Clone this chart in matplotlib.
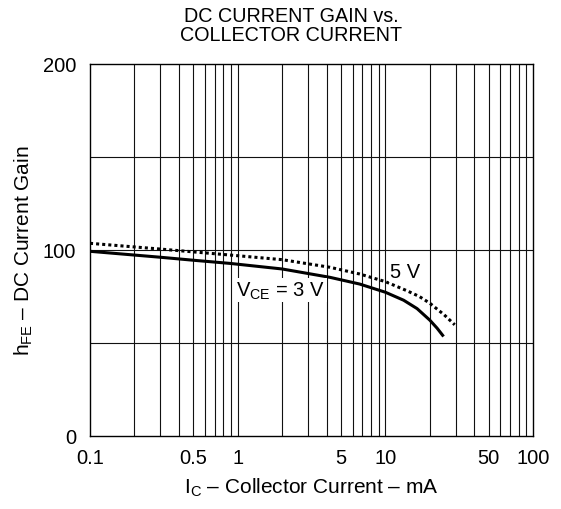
import matplotlib
matplotlib.use("Agg")
import matplotlib.pyplot as plt

plt.rcParams.update({
    "font.family": "Liberation Sans",
    "font.size": 14.5,
    "mathtext.fontset": "custom",
    "mathtext.rm": "Liberation Sans",
})

# (collector current in mA, DC current gain)
ic_3v = [0.1, 0.3, 0.5, 0.886, 2, 4.22, 6.7, 10, 13.3, 16.4, 20, 22.4, 24.8]
hfe_3v = [99.3, 96.1, 94.5, 92.8, 89.8, 85.3, 81.7, 77.3, 73.0, 68.5, 62.3, 58.0, 53.5]
ic_5v = [0.1, 0.3, 0.886, 2, 4.22, 6.7, 10, 14, 17, 20, 25, 29.5]
hfe_5v = [103.6, 100.5, 97.3, 94.8, 90.7, 87.1, 83.0, 78.1, 75.0, 71.4, 65.2, 59.8]

x_ticks = [0.1, 0.5, 1, 5, 10, 50, 100]
x_ticklabels = ["0.1", "0.5", "1", "5", "10", "50", "100"]
y_ticks = [0, 100, 200]
y_grid = [50, 100, 150]

fig = plt.figure(figsize=(5.61, 5.10), dpi=100)
ax = fig.add_axes([90 / 561, 1 - 437 / 510, 443 / 561, 372 / 510])

ax.set_xscale("log")
ax.set_xlim(0.1, 100)
ax.set_ylim(0, 200)

# grid: every 1..9 per decade, and 50-step horizontals
for dec in (0.1, 1, 10):
    for m in range(2, 10):
        ax.axvline(dec * m, color="#111", lw=0.8, zorder=1)
    if dec > 0.1:
        ax.axvline(dec, color="#111", lw=0.8, zorder=1)
for g in y_grid:
    ax.axhline(g, color="#111", lw=0.8, zorder=1)

ax.plot(ic_3v, hfe_3v, color="black", lw=2.2, solid_capstyle="butt",
        solid_joinstyle="round", zorder=3)
ax.plot(ic_5v, hfe_5v, color="black", lw=2.2, ls=(0, (1, 1)), zorder=3)

ax.text(1.96, 78.5, r"V$_\mathregular{CE}$ = 3 V", ha="center", va="center",
        bbox=dict(facecolor="white", edgecolor="none", pad=1), zorder=4)
ax.text(13.6, 88.4, "5 V", ha="center", va="center",
        bbox=dict(facecolor="white", edgecolor="none", pad=1), zorder=4)

ax.set_xticks(x_ticks)
ax.set_xticklabels(x_ticklabels)
ax.xaxis.set_minor_locator(matplotlib.ticker.NullLocator())
ax.set_yticks(y_ticks)
ax.tick_params(axis="both", length=0)
ax.tick_params(axis="x", pad=9)
ax.tick_params(axis="y", pad=10)
for s in ax.spines.values():
    s.set_linewidth(1.0)
    s.set_color("black")

ax.set_xlabel(r"I$_\mathregular{C}$ – Collector Current – mA", fontsize=15)
ax.xaxis.set_label_coords(0.5, -0.107)
ax.set_ylabel(r"h$_\mathregular{FE}$ – DC Current Gain", fontsize=15)
ax.yaxis.set_label_coords(-0.125, 0.5)

fig.text(291 / 561, 1 - 7 / 510, "DC CURRENT GAIN vs.\nCOLLECTOR CURRENT",
         ha="center", va="top", multialignment="center", linespacing=1.0,
         fontsize=14.2)

fig.savefig("out.png", dpi=100, facecolor="white")
